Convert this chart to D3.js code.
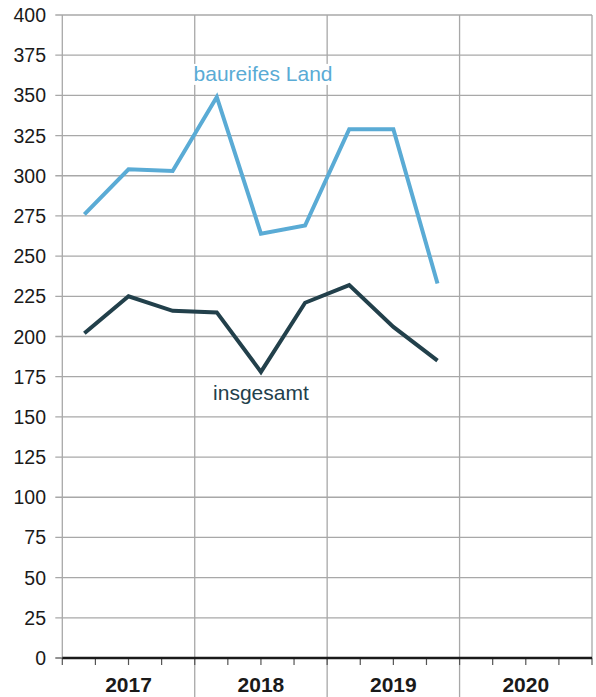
<!DOCTYPE html>
<html>
<head>
<meta charset="utf-8">
<script src="https://cdn.jsdelivr.net/npm/d3@7"></script>
<style>
  html, body { margin: 0; padding: 0; background: #fff; }
  text { font-family: "Liberation Sans", Arial, Helvetica, sans-serif; }
</style>
</head>
<body>
<div id="chart"></div>
<script>
// data (values per third of a year)
const years = [2017, 2018, 2019, 2020];
const baureifesLand = [276, 304, 303, 349, 264, 269, 329, 329, 233];
const insgesamt     = [202, 225, 216, 215, 178, 221, 232, 206, 185];
const yTicks = [0, 25, 50, 75, 100, 125, 150, 175, 200, 225, 250, 275, 300, 325, 350, 375, 400];

const W = 596, H = 697;
const plotL = 62.3, plotR = 592, plotT = 15, plotB = 658;

const svg = d3.select("#chart").append("svg")
  .attr("width", W).attr("height", H);

const x = d3.scaleLinear().domain([2017, 2021]).range([plotL, plotR]);
const y = d3.scaleLinear().domain([0, 400]).range([plotB, plotT]);

const grid = "#a8a8a8";

// horizontal grid + y ticks
svg.append("g").selectAll("line").data(yTicks.filter(d => d > 0)).join("line")
  .attr("x1", plotL - 7).attr("x2", plotR)
  .attr("y1", d => y(d)).attr("y2", d => y(d))
  .attr("stroke", grid).attr("stroke-width", 1.3);
svg.append("line").attr("x1", plotL - 7).attr("x2", plotL)
  .attr("y1", y(0)).attr("y2", y(0)).attr("stroke", "#555").attr("stroke-width", 1.3);

svg.append("g").selectAll("text").data(yTicks).join("text")
  .attr("x", 46).attr("y", d => y(d)).attr("dy", "0.36em")
  .attr("text-anchor", "end").attr("font-size", 19.5).attr("fill", "#1a1a1a")
  .text(d => d);

// year dividers
const edges = [...years, 2021];
svg.append("g").selectAll("line").data(edges).join("line")
  .attr("x1", d => x(d)).attr("x2", d => x(d))
  .attr("y1", plotT)
  .attr("y2", d => (d === 2017 || d === 2021) ? plotB : H)
  .attr("stroke", grid).attr("stroke-width", 1.3);

// quarter ticks under axis
const qTicks = d3.range(0, 17).map(i => 2017 + i / 4);
svg.append("g").selectAll("line").data(qTicks).join("line")
  .attr("x1", d => x(d)).attr("x2", d => x(d))
  .attr("y1", plotB).attr("y2", plotB + 7)
  .attr("stroke", "#555").attr("stroke-width", 1.2);

// zero line
svg.append("line").attr("x1", plotL).attr("x2", plotR)
  .attr("y1", y(0)).attr("y2", y(0))
  .attr("stroke", "#1a1a1a").attr("stroke-width", 2.6);

// year labels
svg.append("g").selectAll("text").data(years).join("text")
  .attr("x", d => x(d + 0.5)).attr("y", 692)
  .attr("text-anchor", "middle").attr("font-size", 21).attr("font-weight", "bold")
  .attr("fill", "#1a1a1a")
  .text(d => d);

// lines
const px = i => 2017 + (i + 0.5) / 3;
const line = d3.line().x((d, i) => x(px(i))).y(d => y(d));

svg.append("path").datum(baureifesLand)
  .attr("d", line).attr("fill", "none")
  .attr("stroke", "#5aabd5").attr("stroke-width", 4)
  .attr("stroke-linejoin", "miter");

svg.append("path").datum(insgesamt)
  .attr("d", line).attr("fill", "none")
  .attr("stroke", "#22404b").attr("stroke-width", 4)
  .attr("stroke-linejoin", "miter");

// series labels
function label(txt, xv, yv, color) {
  const t = svg.append("text")
    .attr("x", x(xv)).attr("y", y(yv))
    .attr("text-anchor", "middle").attr("font-size", 21).attr("fill", color)
    .text(txt);
  const bb = t.node().getBBox();
  svg.insert("rect", () => t.node())
    .attr("x", bb.x - 3).attr("y", bb.y + 2).attr("width", bb.width + 6).attr("height", bb.height - 2)
    .attr("fill", "#fff");
}
label("baureifes Land", 2018.516, 359, "#5aabd5");
label("insgesamt", 2018.5, 160.5, "#22404b");
</script>
</body>
</html>
